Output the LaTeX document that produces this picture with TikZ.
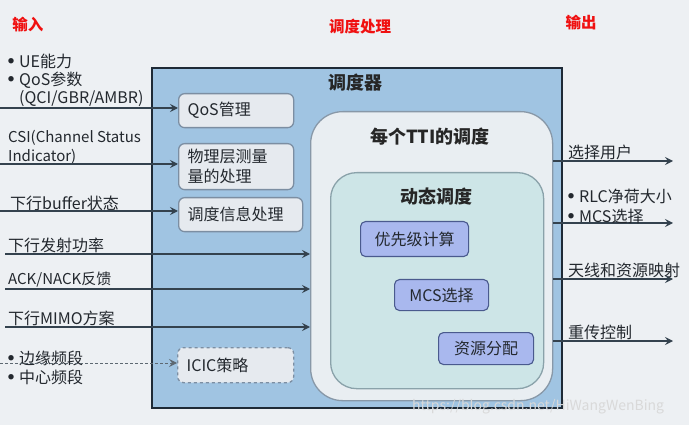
\documentclass[tikz,border=0pt]{standalone}
\usepackage{fontspec}
\setmainfont{Noto Sans CJK SC}
\usetikzlibrary{arrows.meta,calc}
\definecolor{bg}{HTML}{EDF0F3}
\definecolor{mainfill}{HTML}{A0C4E2}
\definecolor{mainline}{HTML}{1E2A36}
\definecolor{smallfill}{HTML}{E6EAEF}
\definecolor{smallline}{HTML}{7C8EA2}
\definecolor{ttifill}{HTML}{E9EEF2}
\definecolor{ttiline}{HTML}{8898A8}
\definecolor{dynfill}{HTML}{CDE5E7}
\definecolor{dynline}{HTML}{8AA2AA}
\definecolor{lavfill}{HTML}{A9B8EE}
\definecolor{lavline}{HTML}{4A5A8E}
\definecolor{arrcol}{HTML}{34424E}
\definecolor{txt}{HTML}{23282E}
\definecolor{redlab}{HTML}{F01010}
\newcommand\mybul{\makebox[11pt][l]{\raisebox{3.3pt}{\fontsize{6}{6}\selectfont ●}}}
\begin{document}
\begin{tikzpicture}[x=1pt,y=-1pt,
  every node/.style={font=\fontsize{16}{20}\selectfont, text=txt},
  lab/.style={anchor=west, inner sep=0pt, align=left},
  redl/.style={font=\fontsize{15.5}{18}\selectfont\bfseries, text=redlab, inner sep=0pt},
  ttl/.style={font=\fontsize{18}{22}\selectfont\bfseries, text=black!85, inner sep=0pt},
  smallbox/.style={draw=smallline, line width=1.3pt, fill=smallfill, rounded corners=6pt, anchor=north west, inner xsep=9pt, inner ysep=0pt, align=left},
  lavbox/.style={draw=lavline, line width=1.1pt, fill=lavfill, rounded corners=5pt, anchor=north west, inner sep=0pt},
  arr/.style={draw=arrcol, line width=1.5pt, -{Stealth[length=8pt,width=8pt,inset=3pt]}},
  darr/.style={arr, densely dashed, line width=1pt, draw=arrcol!80}
]
\useasboundingbox (0,0) rectangle (689,425);
\fill[bg] (0,0) rectangle (689,425);

% red headings
\node[redl] (hin) at (28,25) {输入};
\node[redl] (hproc) at (360,27) {调度处理};
\node[redl] (hout) at (581,23) {输出};

% main scheduler box
\node[draw=mainline, line width=2pt, fill=mainfill, anchor=north west, minimum width=410pt, minimum height=340pt, inner sep=0pt] (main) at (151,67) {};
\node[ttl] (maint) at (355,83) {调度器};

% left small boxes
\node[smallbox, text width=97pt, minimum height=34pt] (qos) at (178,93) {QoS管理};
\node[smallbox, text width=97pt, minimum height=46pt, font=\fontsize{16}{20}\selectfont] (phy) at (178,143) {物理层测量\\量的处理};
\node[smallbox, text width=106pt, minimum height=34pt] (info) at (178,197) {调度信息处理};
\node[smallbox, dashed, text width=98pt, minimum height=35pt] (icic) at (177,347) {ICIC策略};

% per-TTI box
\node[draw=ttiline, line width=1.3pt, fill=ttifill, rounded corners=32pt, anchor=north west, minimum width=242pt, minimum height=289pt, inner sep=0pt] (tti) at (310,111) {};
\node[ttl] (ttit) at (430,137) {每个TTI的调度};

% dynamic scheduling box
\node[draw=dynline, line width=1.3pt, fill=dynfill, rounded corners=26pt, anchor=north west, minimum width=213pt, minimum height=216pt, inner sep=0pt] (dyn) at (330,172) {};
\node[ttl] (dynt) at (436,197) {动态调度};

% lavender boxes
\node[lavbox, minimum width=108pt, minimum height=35pt] (prio) at (360,221) {优先级计算};
\node[lavbox, minimum width=94pt, minimum height=31pt] (mcs) at (394,279) {MCS选择};
\node[lavbox, minimum width=95pt, minimum height=32pt] (res) at (438,332) {资源分配};

% input labels
\node[lab] (l1) at (8,61) {\mybul UE能力};
\node[lab] (l2) at (8,80) {\mybul QoS参数};
\node[lab] (l3) at (19,99) {(QCI/GBR/AMBR)};
\node[lab, font=\fontsize{15}{18}\selectfont] (l4) at (8,138) {CSI(Channel Status};
\node[lab, font=\fontsize{15}{18}\selectfont] (l5) at (8,157) {Indicator)};
\node[lab] (l6) at (10,203) {下行buffer状态};
\node[lab] (l7) at (8,245) {下行发射功率};
\node[lab, font=\fontsize{15}{18}\selectfont] (l8) at (8,280) {ACK/NACK反馈};
\node[lab] (l9) at (8,318) {下行MIMO方案};
\node[lab] (l10) at (8,358) {\mybul 边缘频段};
\node[lab] (l11) at (8,377) {\mybul 中心频段};

% input arrows
\coordinate (i1) at (0,108);
\coordinate (i2) at (0,164);
\coordinate (i3) at (0,211);
\coordinate (i4) at (5,254);
\coordinate (i5) at (5,289);
\coordinate (i6) at (5,327);
\coordinate (i7) at (0,363);
\draw[arr] (i1) -- (i1 -| qos.west);
\draw[arr] (i2) -- (i2 -| phy.west);
\draw[arr] (i3) -- (i3 -| info.west);
\draw[arr] (i4) -- (i4 -| tti.west);
\draw[arr] (i5) -- (i5 -| tti.west);
\draw[arr] (i6) -- (i6 -| tti.west);
\draw[darr] (i7) -- (i7 -| icic.west);

% output arrows
\coordinate (o1) at (673,161);
\coordinate (o2) at (673,223);
\coordinate (o3) at (673,279);
\coordinate (o4) at (673,341);
\draw[arr] (tti.east |- o1) -- (o1);
\draw[arr] (tti.east |- o2) -- (o2);
\draw[arr] (tti.east |- o3) -- (o3);
\draw[arr] (tti.east |- o4) -- (o4);

% output labels
\node[lab] (r1) at (568,152) {选择用户};
\node[lab] (r2) at (568,196) {\mybul RLC净荷大小};
\node[lab] (r3) at (568,216) {\mybul MCS选择};
\node[lab] (r4) at (568,270) {天线和资源映射};
\node[lab] (r5) at (568,332) {重传控制};

% watermark
\node[anchor=west, inner sep=0pt, font=\fontsize{14}{16}\selectfont, text=white!70!gray] (wm) at (412,407) {https://blog.csdn.net/HiWangWenBing};
\end{tikzpicture}
\end{document}
